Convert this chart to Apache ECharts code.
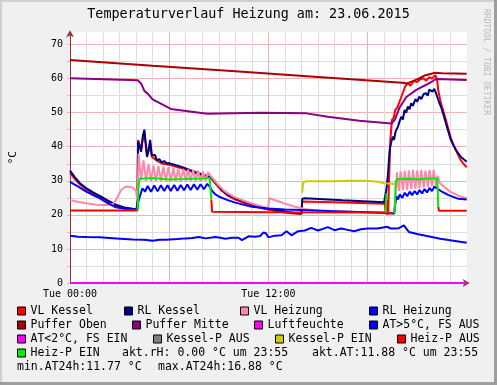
<!DOCTYPE html>
<html><head><meta charset="utf-8">
<script src="https://cdn.jsdelivr.net/npm/echarts@6/dist/echarts.min.js"></script>
<style>html,body{margin:0;padding:0;background:#F0F0F0}#c{width:497px;height:385px}</style>
</head><body><div id="c"></div>
<script>
// ---- data (hour of day, °C) ----
const titleText = 'Temperaturverlauf Heizung am: 23.06.2015';
const xTickLabels = {0: 'Tue 00:00', 12: 'Tue 12:00'};
const seriesNames = ['VL Kessel','RL Kessel','VL Heizung','RL Heizung','Puffer Oben','Puffer Mitte','Luftfeuchte','AT>5°C, FS AUS','AT<2°C, FS EIN','Kessel-P AUS','Kessel-P EIN','Heiz-P AUS','Heiz-P EIN'];
const seriesColors = ['#FF0000','#000080','#FF88AA','#0000FF','#AA0000','#880088','#FF00FF','#0000FF','#FF00FF','#808080','#CCCC00','#FF0000','#00EE00'];
const infoTexts = ['akt.rH: 0.00 °C um 23:55','akt.AT:11.88 °C um 23:55','min.AT24h:11.77 °C','max.AT24h:16.88 °C'];

const vlKessel = [[0,32.3],[0.3,30.5],[0.6,28.9],[1.0,27.4],[1.4,26.2],[1.8,25.2],[2.3,23.8],[2.8,22.6],[3.3,21.9],[3.8,21.5],[4.08,21.4],[4.12,42.0],[4.2,42.5],[4.3,39.0],[4.4,42.0],[4.5,44.0],[4.6,40.0],[4.66,37.5],[4.75,38.5],[4.85,41.0],[4.95,37.0],[5.1,36.5],[5.3,35.8],[5.6,35.0],[6.0,34.7],[6.4,34.2],[6.8,33.6],[7.2,32.9],[7.8,31.8],[8.3,31.0],[8.6,30.4],[8.8,29.2],[9.2,27.0],[9.6,25.5],[10.0,24.5],[10.5,23.6],[11.0,22.8],[11.5,22.1],[12.0,21.5],[12.5,21.0],[13.0,20.7],[13.5,20.4],[14.0,20.3],[14.05,23.9],[16.5,23.6],[19.05,23.3],[19.1,20.4],[19.25,20.3],[19.3,30.0],[19.38,42.0],[19.48,47.9],[19.58,48.5],[19.68,50.8],[19.8,51.5],[19.98,53.8],[20.15,56.0],[20.28,57.7],[20.45,58.7],[20.6,57.9],[20.8,59.3],[21.0,59.0],[21.2,59.8],[21.38,60.1],[21.55,59.4],[21.74,60.4],[21.9,60.0],[22.1,61.0],[22.2,60.0],[22.28,56.5],[22.44,52.8],[22.6,50.2],[22.74,47.9],[22.9,45.0],[23.04,42.5],[23.2,40.6],[23.34,39.1],[23.5,37.4],[23.64,36.1],[23.8,35.0],[24,34.0]];
const rlKessel = [[0,33.0],[0.3,31.0],[0.6,29.3],[1.0,27.8],[1.4,26.6],[1.8,25.6],[2.3,24.2],[2.8,22.9],[3.3,22.2],[3.8,21.8],[4.08,21.6],[4.12,41.5],[4.2,40.5],[4.3,38.5],[4.4,43.0],[4.5,45.0],[4.58,41.0],[4.66,37.0],[4.75,39.0],[4.85,42.0],[4.95,37.5],[5.05,37.0],[5.15,37.6],[5.25,36.0],[5.4,36.4],[5.55,35.4],[5.7,35.8],[5.85,35.1],[6.0,35.2],[6.4,34.6],[6.8,34.0],[7.2,33.3],[7.8,32.2],[8.3,31.4],[8.6,30.8],[8.8,29.6],[9.2,27.3],[9.6,25.8],[10.0,24.9],[10.5,24.0],[11.0,23.2],[11.5,22.5],[12.0,21.9],[12.5,21.4],[13.0,21.0],[13.5,20.6],[14.0,20.3],[14.05,24.7],[14.2,24.9],[16.5,24.3],[19.0,23.7],[19.05,23.9],[19.14,27.3],[19.24,32.2],[19.34,39.1],[19.44,41.5],[19.54,43.0],[19.6,42.0],[19.7,44.5],[19.84,45.9],[19.94,47.5],[20.04,48.8],[20.14,48.0],[20.24,50.8],[20.34,50.0],[20.44,51.8],[20.54,51.0],[20.64,52.8],[20.74,52.0],[20.9,54.0],[21.0,53.2],[21.14,54.7],[21.25,54.0],[21.4,55.5],[21.54,55.7],[21.64,55.0],[21.74,56.8],[21.84,57.2],[21.94,56.2],[22.04,57.0],[22.18,55.2],[22.3,53.5],[22.44,51.8],[22.6,49.3],[22.74,46.9],[22.9,44.3],[23.04,42.0],[23.2,40.4],[23.34,39.1],[23.5,38.0],[23.64,37.1],[23.8,36.4],[24,35.6]];
const vlHeizung = [[0,24.4],[0.5,23.8],[1.0,23.4],[1.6,23.0],[2.2,22.9],[2.6,23.2],[2.8,24.5],[2.95,26.0],[3.1,27.3],[3.3,28.1],[3.5,28.3],[3.8,28.0],[4.0,27.0],[4.08,24.0],[4.15,38.0],[4.3,30.2],[4.45,36.0],[4.6,30.0],[4.75,35.0],[4.9,29.9],[5.05,34.5],[5.2,29.9],[5.35,34.3],[5.5,29.9],[5.65,34.2],[5.8,29.9],[5.95,34.0],[6.1,29.9],[6.25,33.8],[6.4,29.9],[6.55,33.6],[6.7,29.9],[6.85,33.5],[7.0,29.9],[7.15,33.3],[7.3,29.9],[7.45,33.2],[7.6,29.9],[7.75,33.0],[7.9,29.9],[8.05,32.8],[8.2,30.0],[8.35,32.5],[8.5,31.5],[8.6,31.0],[8.96,28.8],[9.3,27.2],[9.56,26.3],[9.96,25.2],[10.5,24.2],[10.96,23.4],[11.5,22.6],[11.98,21.9],[12.05,24.9],[12.6,24.0],[13.0,23.3],[13.6,22.4],[14.4,21.6],[15.0,21.3],[16.0,21.1],[17.0,20.9],[18.0,20.8],[19.6,20.6],[19.7,26.0],[19.78,32.5],[19.9,27.0],[20.0,32.8],[20.15,27.2],[20.25,33.0],[20.4,27.3],[20.5,33.0],[20.65,27.5],[20.75,33.2],[20.9,27.6],[21.0,33.0],[21.15,27.8],[21.25,33.2],[21.4,28.0],[21.5,33.0],[21.65,28.2],[21.75,33.2],[21.9,28.4],[22.0,33.2],[22.15,28.6],[22.25,31.5],[22.38,29.3],[22.7,28.0],[23.0,26.8],[23.6,25.4],[24,24.9]];
const rlHeizung = [[0,29.7],[0.5,28.3],[0.98,26.8],[1.4,25.8],[1.78,24.9],[2.3,23.4],[2.78,22.2],[3.3,21.8],[3.78,21.6],[4.0,21.5],[4.08,22.9],[4.22,25.3],[4.38,27.8],[4.54,26.8],[4.7,28.5],[4.9,26.8],[5.1,28.6],[5.3,26.9],[5.5,28.7],[5.7,27.0],[5.9,28.7],[6.1,27.0],[6.3,28.8],[6.5,27.1],[6.7,28.8],[6.9,27.2],[7.1,28.9],[7.3,27.3],[7.5,29.0],[7.7,27.4],[7.9,29.0],[8.1,27.5],[8.3,29.1],[8.45,28.3],[8.6,27.0],[8.8,26.0],[9.0,25.4],[9.5,24.4],[10.0,23.6],[11.0,22.4],[12.0,21.9],[13.0,21.6],[14.0,21.4],[16.0,21.1],[18.0,20.8],[19.4,20.5],[19.62,20.4],[19.66,22.4],[19.75,25.5],[19.85,24.5],[19.95,26.0],[20.1,25.0],[20.25,26.5],[20.4,25.5],[20.55,26.8],[20.7,25.8],[20.85,27.0],[21.0,26.0],[21.15,27.3],[21.3,26.3],[21.45,27.6],[21.6,26.6],[21.75,27.9],[21.9,27.0],[22.05,28.3],[22.2,27.8],[22.3,27.3],[22.5,26.8],[22.9,25.8],[23.5,24.7],[24,24.5]];
const pufferOben = [[0,65.5],[5,63.8],[10,62.2],[15,60.5],[20.1,58.8],[20.4,58.6],[21.0,59.8],[21.5,61.0],[22.1,61.7],[22.5,61.6],[24,61.4]];
const pufferMitte = [[0,60.1],[4.1,59.5],[4.3,58.6],[4.5,56.4],[4.7,55.6],[5.0,53.9],[5.4,52.9],[6.1,51.1],[6.9,50.6],[8.3,49.7],[11.5,50.0],[14.3,49.8],[15.6,48.8],[17.5,47.6],[19.45,46.8],[19.65,47.9],[19.95,51.6],[20.35,54.6],[20.95,56.7],[21.55,58.2],[21.95,59.3],[22.15,59.9],[24,59.6]];
const luftfeuchte = [[0,0],[24,0]];
const atAussen = [[0,13.9],[0.5,13.6],[1.0,13.5],[1.8,13.4],[2.8,13.1],[3.8,12.8],[4.5,12.7],[5.0,12.4],[5.4,12.7],[5.8,12.7],[6.5,12.9],[7.0,13.1],[7.4,13.2],[7.8,13.5],[8.2,13.1],[8.8,13.5],[9.1,13.3],[9.4,13.0],[9.8,13.3],[10.2,13.3],[10.4,12.6],[10.8,13.7],[11.2,13.6],[11.5,13.8],[11.7,14.8],[11.85,14.6],[12.0,13.4],[12.4,13.9],[12.8,14.0],[13.1,15.2],[13.4,14.0],[13.8,15.2],[14.2,15.4],[14.6,16.2],[15.0,15.4],[15.3,15.9],[15.6,16.4],[16.0,15.5],[16.4,16.0],[16.8,15.6],[17.2,15.2],[17.6,15.8],[18.0,16.0],[18.6,16.0],[19.2,16.5],[19.4,16.0],[19.6,16.0],[19.9,16.1],[20.2,16.9],[20.5,15.0],[21.0,14.4],[21.6,13.8],[22.4,13.0],[23.2,12.4],[24,11.8]];
const atKalt = [];
const kesselPAus = [];
const kesselPEin = [[14.05,26.5],[14.1,29.5],[14.3,29.9],[16,29.9],[17,30.0],[18.0,30.0],[18.6,29.7],[19.0,29.3],[19.6,29.1]];
const heizPAus = [[0,21.3],[4.1,21.3],[4.11,null],[8.55,24.4],[8.6,20.9],[12,20.8],[19.1,20.7],[19.11,null],[19.17,24.4],[19.2,20.4],[19.62,20.5],[19.63,null],[22.28,22.4],[22.32,21.2],[24,21.2]];
const heizPEin = [[4.1,21.3],[4.14,27.6],[4.2,30.6],[5.0,30.8],[6.0,30.4],[7.0,30.5],[8.0,30.7],[8.45,30.8],[8.55,24.4],[8.56,null],[19.1,20.7],[19.14,26.3],[19.17,24.4],[19.18,null],[19.62,20.5],[19.66,22.4],[19.7,29.5],[19.8,30.5],[20.5,30.6],[21.0,30.4],[21.5,30.6],[22.0,30.7],[22.22,30.7],[22.28,22.4]];

const seriesData = [vlKessel, rlKessel, vlHeizung, rlHeizung, pufferOben, pufferMitte, luftfeuchte, atAussen, atKalt, kesselPAus, kesselPEin, heizPAus, heizPEin];

// ---- layout ----
const FONT = '"DejaVu Sans Mono", monospace';
const MAJOR = '#F2B0B0', MINOR = '#DDDDDD', AXIS = '#993333';
const legendPos = [[17,311],[124,311],[240,311],[369,311],[17,325],[132,325],[254,325],[369,325],[17,339],[153,339],[275,339],[397,339],[17,353]];
const infoPos = [[122,353],[312,353],[17,367],[158,367]];

const chart = echarts.init(document.getElementById('c'), null, {renderer: 'canvas'});
const ySplitColors = [];
for (let i = 0; i < 16; i++) ySplitColors.push(i === 15 ? 'rgba(0,0,0,0)' : (i % 2 === 0 ? MAJOR : MINOR));

const option = {
  backgroundColor: '#F0F0F0',
  animation: false,
  title: {text: titleText, left: 'center', top: 8, padding: 0,
    textStyle: {fontFamily: FONT, fontSize: 13.4, fontWeight: 'normal', color: '#000'}},
  grid: {left: 67.7, right: 30.3, top: 32.3, bottom: 102, show: true, backgroundColor: '#FFFFFF', borderWidth: 0},
  xAxis: {type: 'value', min: 0, max: 24, interval: 1,
    axisLine: {show: true, lineStyle: {color: AXIS, width: 1}, symbol: ['none', 'arrow'], symbolSize: [6, 7], symbolOffset: [0, 3]},
    axisTick: {show: false},
    axisLabel: {showMaxLabel: false, margin: 6, fontFamily: FONT, fontSize: 10, color: '#000',
      formatter: v => xTickLabels[v] || ''},
    splitLine: {show: true, showMaxLine: false, lineStyle: {color: [MAJOR, MINOR, MINOR, MINOR, MINOR, MINOR], width: 1}}},
  yAxis: {type: 'value', min: 0, max: 73.6, interval: 5,
    name: '°C', nameLocation: 'middle', nameRotate: 90, nameGap: 51,
    nameTextStyle: {fontFamily: FONT, fontSize: 11, color: '#000'},
    axisLine: {show: true, lineStyle: {color: AXIS, width: 1}, symbol: ['none', 'arrow'], symbolSize: [6, 7], symbolOffset: [0, 2]},
    axisTick: {show: true, length: 3, lineStyle: {color: MAJOR}},
    axisLabel: {showMaxLabel: false, margin: 7, fontFamily: FONT, fontSize: 10, color: '#000',
      formatter: v => (v % 10 === 0 ? String(v) : '')},
    splitLine: {show: true, showMaxLine: false, lineStyle: {color: ySplitColors, width: 1}}},
  legend: seriesNames.map((n, i) => ({
    data: [n], left: legendPos[i][0], top: legendPos[i][1] - 7, padding: 0, itemGap: 0,
    icon: 'rect', itemWidth: 8, itemHeight: 8, selectedMode: false,
    itemStyle: {color: seriesColors[i], borderColor: '#000', borderWidth: 1},
    textStyle: {fontFamily: FONT, fontSize: 11.5, color: '#000', lineHeight: 14}
  })),
  series: seriesNames.map((n, i) => ({
    name: n, type: 'line', data: seriesData[i], showSymbol: false, symbol: 'none',
    connectNulls: false, clip: i !== 6, color: seriesColors[i],
    lineStyle: {color: seriesColors[i], width: 2}, z: 2 + i * 0.01
  })),
  graphic: [
    {type: 'rect', shape: {x: 0, y: 0, width: 497, height: 2}, style: {fill: '#CFCFCF'}, silent: true},
    {type: 'rect', shape: {x: 0, y: 0, width: 2, height: 385}, style: {fill: '#CFCFCF'}, silent: true},
    {type: 'rect', shape: {x: 494, y: 0, width: 3, height: 385}, style: {fill: '#9E9E9E'}, silent: true},
    {type: 'rect', shape: {x: 0, y: 382, width: 497, height: 3}, style: {fill: '#9E9E9E'}, silent: true},
    {type: 'text', x: 486.5, y: 62, rotation: -Math.PI / 2, silent: true,
      style: {text: 'RRDTOOL / TOBI OETIKER', font: '8px ' + FONT, fill: '#B8B8B8', align: 'center', verticalAlign: 'middle'}},
  ].concat(infoTexts.map((t, i) => ({type: 'text', x: infoPos[i][0], y: infoPos[i][1], silent: true,
      style: {text: t, font: '11.5px ' + FONT, fill: '#000', align: 'left', verticalAlign: 'middle'}})))
};
chart.setOption(option);
</script></body></html>
